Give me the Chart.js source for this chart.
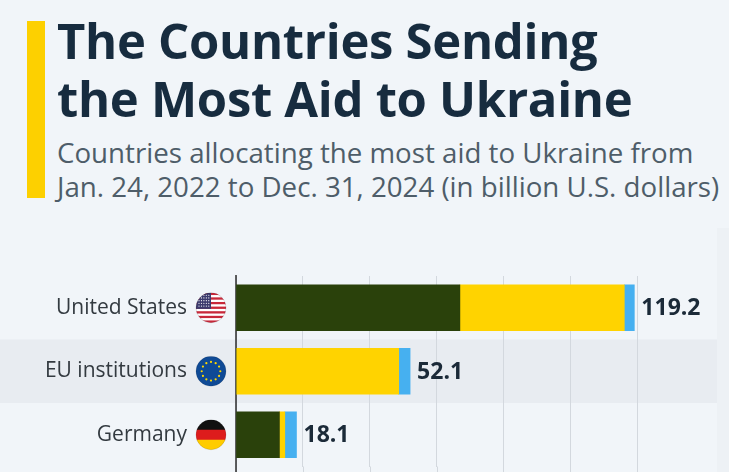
<!DOCTYPE html>
<html>
<head>
<meta charset="utf-8">
<script src="https://cdn.jsdelivr.net/npm/chart.js@4.4.1/dist/chart.umd.min.js"></script>
<style>
  html, body { margin:0; padding:0; width:729px; height:472px; overflow:hidden; background:#f1f5f9; }
  #accent { position:absolute; left:27px; top:21px; width:18px; height:177px; background:#fdd000; }
  #title { position:absolute; left:57px; top:11px; margin:0; font-family:"Open Sans", sans-serif; font-weight:700; font-size:49px; line-height:58px; color:#172c3f; letter-spacing:-0.3px; white-space:nowrap; }
  #subtitle { position:absolute; left:57px; top:135px; margin:0; font-family:"Open Sans", sans-serif; font-weight:400; font-size:27.7px; line-height:34px; color:#4e5d69; white-space:nowrap; }
  #wrap { position:absolute; left:0; top:0; width:729px; height:472px; }
</style>
</head>
<body>
<div id="accent"></div>
<h1 id="title">The Countries Sending<br>the Most Aid to Ukraine</h1>
<p id="subtitle">Countries allocating the most aid to Ukraine from<br>Jan. 24, 2022 to Dec. 31, 2024 (in billion U.S. dollars)</p>
<div id="wrap"><canvas id="c" width="729" height="472"></canvas></div>
<script>
const categories = ["United States", "EU institutions", "Germany"];
const flagCodes = ["us", "eu", "de"];
const military = [67.0, 0, 13.0];
const financial = [49.2, 48.7, 1.6];
const humanitarian = [3.0, 3.4, 3.5];
const xTicks = [0, 20, 40, 60, 80, 100, 120];

function drawFlag(ctx, code, cx, cy, r) {
  ctx.save();
  ctx.beginPath();
  ctx.arc(cx, cy, r, 0, Math.PI * 2);
  ctx.clip();
  const x0 = cx - r, y0 = cy - r, d = 2 * r;
  if (code === "us") {
    for (let i = 0; i < 13; i++) {
      ctx.fillStyle = i % 2 === 0 ? "#c8283a" : "#ffffff";
      ctx.fillRect(x0, y0 + i * d / 13, d, d / 13 + 0.5);
    }
    ctx.fillStyle = "#3c3b6e";
    ctx.fillRect(x0, y0, d * 0.5, d * 7 / 13);
    ctx.fillStyle = "#ffffff";
    for (let row = 0; row < 5; row++) {
      for (let col = 0; col < 5; col++) {
        ctx.beginPath();
        ctx.arc(x0 + 3 + col * (d * 0.5 - 4) / 4.5, y0 + 2.5 + row * (d * 7 / 13 - 4) / 4.5, 0.6, 0, Math.PI * 2);
        ctx.fill();
      }
    }
  } else if (code === "eu") {
    ctx.fillStyle = "#0f4a96";
    ctx.fillRect(x0, y0, d, d);
    ctx.fillStyle = "#ffd800";
    for (let i = 0; i < 12; i++) {
      const a = i * Math.PI / 6;
      ctx.beginPath();
      ctx.arc(cx + Math.cos(a) * r * 0.62, cy + Math.sin(a) * r * 0.62, 1.1, 0, Math.PI * 2);
      ctx.fill();
    }
  } else if (code === "de") {
    ctx.fillStyle = "#111111"; ctx.fillRect(x0, y0, d, d / 3 + 0.5);
    ctx.fillStyle = "#dd1c1c"; ctx.fillRect(x0, y0 + d / 3, d, d / 3 + 0.5);
    ctx.fillStyle = "#ffcc00"; ctx.fillRect(x0, y0 + 2 * d / 3, d, d / 3 + 0.5);
  }
  ctx.restore();
  ctx.save();
  ctx.beginPath();
  ctx.arc(cx, cy, r, 0, Math.PI * 2);
  ctx.strokeStyle = "rgba(0,0,0,0.12)";
  ctx.lineWidth = 1;
  ctx.stroke();
  ctx.restore();
}

const decor = {
  id: "decor",
  beforeDraw(chart) {
    const { ctx } = chart;
    const y = chart.scales.y;
    const half = (y.getPixelForValue(1) - y.getPixelForValue(0)) / 2;
    const yc = y.getPixelForValue(1);
    ctx.save();
    ctx.fillStyle = "#e8ecf1";
    ctx.fillRect(0, yc - half, 717, half * 2);
    ctx.fillStyle = "#edf1f5";
    ctx.fillRect(717, 228, 12, chart.height - 228);
    ctx.restore();
  },
  beforeDatasetsDraw(chart) {
    const { ctx, chartArea } = chart;
    const x = chart.scales.x;
    ctx.save();
    ctx.strokeStyle = "#d3d8de";
    ctx.lineWidth = 1;
    xTicks.forEach(v => {
      const px = Math.round(x.getPixelForValue(v)) + 0.5;
      ctx.beginPath();
      ctx.moveTo(px, chartArea.bottom);
      ctx.lineTo(px, chart.height);
      ctx.stroke();
    });
    ctx.strokeStyle = "#2b2b2b";
    ctx.lineWidth = 1.5;
    ctx.beginPath();
    ctx.moveTo(chartArea.left, chartArea.top - 1);
    ctx.lineTo(chartArea.left, chart.height);
    ctx.stroke();
    ctx.restore();
  },
  afterDatasetsDraw(chart) {
    const { ctx, chartArea } = chart;
    const meta = chart.getDatasetMeta(2);
    ctx.save();
    ctx.font = "700 23px 'Open Sans', sans-serif";
    ctx.fillStyle = "#1b2a38";
    ctx.textBaseline = "middle";
    ctx.textAlign = "left";
    categories.forEach((c, i) => {
      const total = (military[i] + financial[i] + humanitarian[i]).toFixed(1);
      const el = meta.data[i];
      ctx.fillText(total, el.x + 7, el.y + 1);
    });
    const y = chart.scales.y;
    flagCodes.forEach((code, i) => {
      drawFlag(ctx, code, chartArea.left - 25, y.getPixelForValue(i), 15);
    });
    ctx.restore();
  }
};

new Chart(document.getElementById("c"), {
  type: "bar",
  data: {
    labels: categories,
    datasets: [
      { label: "Military", data: military, backgroundColor: "#2a410b" },
      { label: "Financial", data: financial, backgroundColor: "#ffd300" },
      { label: "Humanitarian", data: humanitarian, backgroundColor: "#46b0f0" }
    ]
  },
  options: {
    indexAxis: "y",
    responsive: false,
    animation: false,
    events: [],
    layout: { padding: { top: 276, right: 92, bottom: 5.5, left: 0 } },
    datasets: { bar: { barThickness: 46, borderWidth: 0, borderSkipped: false } },
    plugins: { legend: { display: false }, tooltip: { enabled: false }, title: { display: false } },
    scales: {
      x: {
        stacked: true, min: 0, max: 120,
        afterBuildTicks: s => { s.ticks = xTicks.map(v => ({ value: v })); },
        afterFit: s => { s.height = 0; s.paddingLeft = 0; s.paddingRight = 0; },
        ticks: { display: false },
        grid: { color: "#d3d8de", lineWidth: 1, drawTicks: false },
        border: { display: false }
      },
      y: {
        stacked: true,
        afterFit: s => { s.width = 236; s.paddingTop = 0; s.paddingBottom = 0; },
        grid: { display: false, drawTicks: false },
        border: { display: false },
        ticks: { color: "#333a40", padding: 49, font: { family: "'Open Sans', sans-serif", size: 21 } }
      }
    }
  },
  plugins: [decor]
});
</script>
</body>
</html>
